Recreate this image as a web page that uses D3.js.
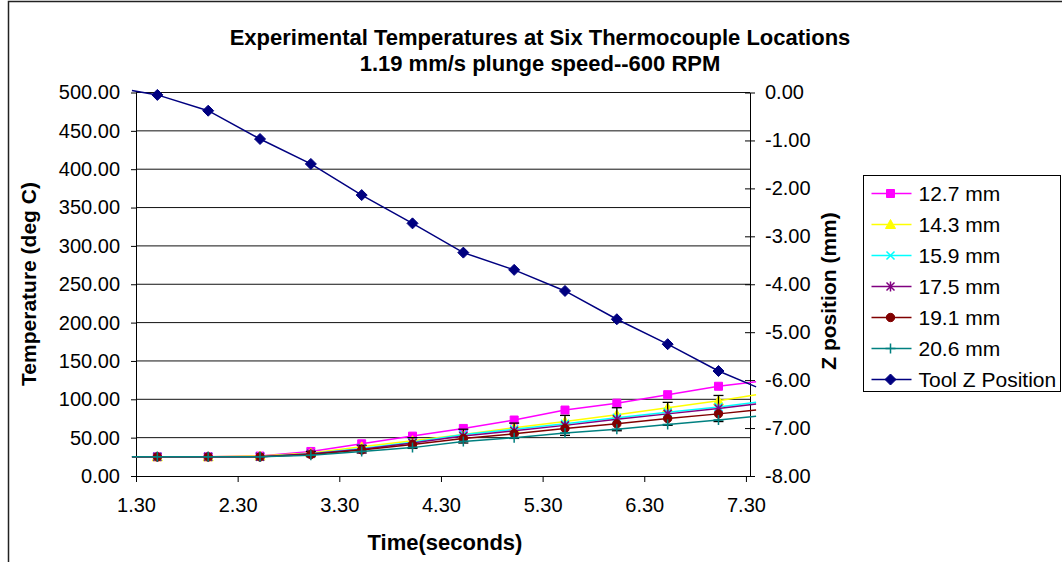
<!DOCTYPE html>
<html>
<head>
<meta charset="utf-8">
<script src="https://cdn.jsdelivr.net/npm/d3@7"></script>
<style>
  body { margin: 0; background: #fff; }
  svg { font-family: "Liberation Sans", Arial, sans-serif; }
</style>
</head>
<body>
<svg id="chart" width="1062" height="562"></svg>
<script>
// data
const times   = [1.26, 1.51, 2.01, 2.52, 3.02, 3.52, 4.02, 4.52, 5.02, 5.52, 6.03, 6.53, 7.03, 7.40];
const temp127 = [25, 25, 25, 26, 32, 42, 52, 62, 73, 86, 95, 106, 117, 123];
const temp143 = [25, 25, 25, 26, 30, 38, 46, 54, 63, 71, 80, 89, 98, 106];
const temp159 = [25, 25, 25, 25, 29, 36, 44, 54, 61, 68, 76, 83, 90, 96];
const temp175 = [25, 25, 25, 25, 29, 35, 43, 52, 59, 66, 74, 81, 88, 94];
const temp191 = [25, 25, 25, 25, 28, 34, 41, 49, 55, 62, 68, 75, 81, 86];
const temp206 = [25, 25, 25, 25, 27, 32, 37, 45, 50, 56, 61, 67, 73, 78];
const zPos    = [0.04, -0.05, -0.38, -0.97, -1.49, -2.14, -2.73, -3.34, -3.70, -4.14, -4.73, -5.25, -5.81, -6.14];
const err175  = [0, 0, 0, 0, 3, 5, 7, 9, 10, 13, 15, 15, 17, 0];

const seriesNames = ["12.7 mm", "14.3 mm", "15.9 mm", "17.5 mm", "19.1 mm", "20.6 mm", "Tool Z Position"];
const tempTicks = [0, 50, 100, 150, 200, 250, 300, 350, 400, 450, 500];
const zTicks    = [0, -1, -2, -3, -4, -5, -6, -7, -8];
const timeTicks = [1.3, 2.3, 3.3, 4.3, 5.3, 6.3, 7.3];

const svg = d3.select("#chart");

const plot = { left: 136, right: 750, top: 92.5, bottom: 476 };

const x  = d3.scaleLinear().domain([1.3, 7.34]).range([plot.left, plot.right]);
const yL = d3.scaleLinear().domain([0, 500]).range([plot.bottom, plot.top]);
const yR = d3.scaleLinear().domain([-8, 0]).range([plot.bottom, plot.top]);

// outer frame
svg.append("path")
  .attr("d", "M8.5,562 V1.5 H1062")
  .attr("fill", "none").attr("stroke", "#222").attr("stroke-width", 1.5);

// titles
svg.append("text").attr("x", 540).attr("y", 45)
  .attr("text-anchor", "middle").attr("font-size", 22).attr("font-weight", "bold")
  .text("Experimental Temperatures at Six Thermocouple Locations");
svg.append("text").attr("x", 540).attr("y", 71)
  .attr("text-anchor", "middle").attr("font-size", 22).attr("font-weight", "bold")
  .text("1.19 mm/s plunge speed--600 RPM");

// gridlines
svg.append("g").selectAll("line")
  .data(tempTicks.filter(d => d > 0))
  .join("line")
  .attr("x1", plot.left).attr("x2", plot.right)
  .attr("y1", d => yL(d)).attr("y2", d => yL(d))
  .attr("stroke", "#111").attr("stroke-width", 1);

// plain hyphen for negatives, like the original
const fmt = d => d3.format(".2f")(d).replace("\u2212", "-");

// left axis
const gL = svg.append("g").attr("transform", `translate(${plot.left},0)`)
  .call(d3.axisLeft(yL).tickValues(tempTicks).tickFormat(fmt).tickSizeInner(5).tickSizeOuter(0).tickPadding(11));

// right axis
const gR = svg.append("g").attr("transform", `translate(${plot.right},0)`)
  .call(d3.axisRight(yR).tickValues(zTicks).tickFormat(fmt).tickSizeInner(5).tickSizeOuter(0).tickPadding(10));
gR.selectAll(".tick line").attr("x1", -5).attr("x2", 5);

// bottom axis
const gB = svg.append("g").attr("transform", `translate(0,${plot.bottom})`)
  .call(d3.axisBottom(x).tickValues(timeTicks).tickFormat(fmt).tickSizeInner(6).tickSizeOuter(0));
gB.selectAll(".tick text").attr("y", 35.7).attr("dy", 0);

[gL, gR, gB].forEach(g => {
  g.attr("font-family", null).attr("font-size", null);
  g.selectAll("text").attr("font-size", 20).attr("fill", "#000");
  g.selectAll("line").attr("stroke", "#000");
  g.select(".domain").attr("stroke", "#000");
});

// axis titles
svg.append("text")
  .attr("transform", "translate(36,284) rotate(-90)")
  .attr("text-anchor", "middle").attr("font-size", 21).attr("font-weight", "bold")
  .text("Temperature (deg C)");
svg.append("text")
  .attr("transform", "translate(836,291) rotate(-90)")
  .attr("text-anchor", "middle").attr("font-size", 21).attr("font-weight", "bold")
  .text("Z position (mm)");
svg.append("text")
  .attr("x", 445).attr("y", 550)
  .attr("text-anchor", "middle").attr("font-size", 22).attr("font-weight", "bold")
  .text("Time(seconds)");

// markers
function markerPath(type) {
  switch (type) {
    case "square":   return "M-4,-4H4V4H-4Z";
    case "triangle": return "M0,-5L5,4H-5Z";
    case "x":        return "M-4,-4L4,4M-4,4L4,-4";
    case "asterisk": return "M-4,-4L4,4M-4,4L4,-4M0,-5V5";
    case "circle":   return "M-4.2,0A4.2,4.2 0 1,0 4.2,0A4.2,4.2 0 1,0 -4.2,0Z";
    case "plus":     return "M-5,0H5M0,-5V5";
    case "diamond":  return "M0,-5.5L5.5,0L0,5.5L-5.5,0Z";
  }
}
const stroked = { x: true, asterisk: true, plus: true };

const series = [
  { name: seriesNames[0], values: temp127, color: "#FF00FF", marker: "square",   y: yL },
  { name: seriesNames[1], values: temp143, color: "#FFFF00", marker: "triangle", y: yL },
  { name: seriesNames[2], values: temp159, color: "#00FFFF", marker: "x",        y: yL },
  { name: seriesNames[3], values: temp175, color: "#800080", marker: "asterisk", y: yL, err: err175 },
  { name: seriesNames[4], values: temp191, color: "#800000", marker: "circle",   y: yL },
  { name: seriesNames[5], values: temp206, color: "#008080", marker: "plus",     y: yL },
  { name: seriesNames[6], values: zPos,    color: "#000080", marker: "diamond",  y: yR }
];

const inRange = t => t >= 1.3 && t <= 7.34;

series.forEach(s => {
  const pts = times.map((t, i) => ({ t, v: s.values[i], e: s.err ? s.err[i] : 0 }));
  const line = d3.line().x(d => x(d.t)).y(d => s.y(d.v));
  const g = svg.append("g");
  g.append("path").datum(pts)
    .attr("d", line).attr("fill", "none")
    .attr("stroke", s.color).attr("stroke-width", 1.5);

  if (s.err) {
    const eb = g.append("g").attr("stroke", "#000").attr("stroke-width", 1.3);
    pts.filter(d => inRange(d.t) && d.e > 0).forEach(d => {
      const cx = x(d.t), y1 = s.y(d.v + d.e), y2 = s.y(d.v - d.e);
      eb.append("line").attr("x1", cx).attr("x2", cx).attr("y1", y1).attr("y2", y2);
      eb.append("line").attr("x1", cx - 5).attr("x2", cx + 5).attr("y1", y1).attr("y2", y1);
      eb.append("line").attr("x1", cx - 5).attr("x2", cx + 5).attr("y1", y2).attr("y2", y2);
    });
  }

  g.selectAll(".mk").data(pts.filter(d => inRange(d.t)))
    .join("path")
    .attr("class", "mk")
    .attr("transform", d => `translate(${x(d.t)},${s.y(d.v)})`)
    .attr("d", markerPath(s.marker))
    .attr("fill", stroked[s.marker] ? "none" : s.color)
    .attr("stroke", s.color)
    .attr("stroke-width", stroked[s.marker] ? 1.5 : 1);
});

// legend
const legend = svg.append("g").attr("transform", "translate(863.5,175.5)");
legend.append("rect").attr("width", 197).attr("height", 216)
  .attr("fill", "#fff").attr("stroke", "#000").attr("stroke-width", 1);

series.forEach((s, i) => {
  const row = legend.append("g").attr("transform", `translate(0,${18 + i * 31})`);
  row.append("line").attr("x1", 8).attr("x2", 48)
    .attr("stroke", s.color).attr("stroke-width", 1.5);
  row.append("path").attr("transform", "translate(27,0)")
    .attr("d", markerPath(s.marker))
    .attr("fill", stroked[s.marker] ? "none" : s.color)
    .attr("stroke", s.color)
    .attr("stroke-width", stroked[s.marker] ? 1.5 : 1);
  row.append("text").attr("x", 55).attr("y", 7)
    .attr("font-size", 21).attr("fill", "#000")
    .text(s.name);
});
</script>
</body>
</html>
